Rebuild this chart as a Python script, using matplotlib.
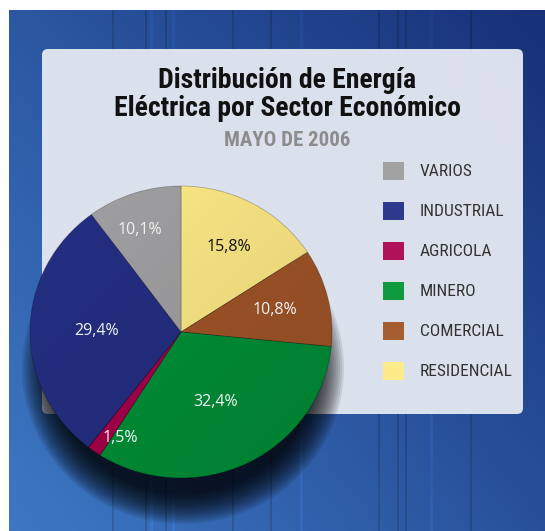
import numpy as np
import matplotlib.pyplot as plt
import matplotlib.font_manager as fm
from matplotlib.patches import FancyBboxPatch, Rectangle, Ellipse

# datos del grafico (orden horario desde las 12)
sectores = ["RESIDENCIAL", "COMERCIAL", "MINERO", "AGRICOLA", "INDUSTRIAL", "VARIOS"]
porcentajes = [15.8, 10.8, 32.4, 1.5, 29.4, 10.1]
orden_leyenda = ["VARIOS", "INDUSTRIAL", "AGRICOLA", "MINERO", "COMERCIAL", "RESIDENCIAL"]

colores_pie = {"RESIDENCIAL": "#f9e684", "COMERCIAL": "#9f5428", "MINERO": "#008f37",
               "AGRICOLA": "#a5004a", "INDUSTRIAL": "#242e80", "VARIOS": "#9e9ea0"}
colores_ley = {"RESIDENCIAL": "#fdeb8a", "COMERCIAL": "#a65d31", "MINERO": "#0f9a40",
               "AGRICOLA": "#b0125a", "INDUSTRIAL": "#2e3a8e", "VARIOS": "#a2a2a2"}
color_texto = {"RESIDENCIAL": "#111111"}
# radio y giro (grados) de cada etiqueta respecto al centro de su porcion
radio_etiqueta = {"RESIDENCIAL": 0.66, "COMERCIAL": 0.64, "MINERO": 0.53,
                  "AGRICOLA": 0.83, "INDUSTRIAL": 0.56, "VARIOS": 0.75}
giro_etiqueta = {"AGRICOLA": 6, "VARIOS": 3}

W, H = 545, 531

# fuente condensada: la primera disponible
disponibles = {f.name for f in fm.fontManager.ttflist}
narrow = None
for cand in ['Roboto Condensed', 'Archivo Narrow', 'Liberation Sans Narrow']:
    if cand in disponibles:
        narrow = cand
        break
estiramiento = 'normal'
if narrow is None:
    narrow = 'DejaVu Sans'
    estiramiento = 'condensed'
sans = ['Open Sans', 'DejaVu Sans']

fig = plt.figure(figsize=(W / 100, H / 100), dpi=100, facecolor='white')
ax = fig.add_axes([0, 0, 1, 1])
ax.set_xlim(0, W)
ax.set_ylim(H, 0)
ax.axis('off')

# fondo azul con vetas
x0, y0 = 9, 10
xs = np.linspace(0, 1, W - x0)
ys = np.linspace(0, 1, H - y0)
t = 0.55 * (1 - xs[None, :]) + 0.45 * ys[:, None]
dark = np.array([0.09, 0.19, 0.47])
light = np.array([0.24, 0.47, 0.77])
bg = dark + (light - dark) * t[..., None]
for sx in [112, 145, 165, 232, 270, 378, 397, 405, 470]:
    bg[:, sx - x0:sx - x0 + 2] *= 0.85
for sx in [150, 172, 300, 430]:
    bg[:, sx - x0:sx - x0 + 3] = np.clip(bg[:, sx - x0:sx - x0 + 3] * 1.08, 0, 1)
ax.imshow(bg, extent=(x0, W, H, y0), aspect='auto', interpolation='bilinear', zorder=0)

# panel claro
panel = FancyBboxPatch((42, 49), 481, 365, boxstyle="round,pad=0,rounding_size=6",
                       fc='#e2e7f0', ec='none', alpha=0.97, zorder=1)
ax.add_patch(panel)

# sombra del pastel (mas hacia abajo)
for k in np.linspace(10, -20, 16):
    ax.add_patch(Ellipse((183, 368), 2 * (151 + k), 2 * (146 + k), fc='black',
                         ec='none', alpha=0.09, zorder=2))

# titulos
ax.text(287, 80, "Distribución de Energía", ha='center', va='center', fontsize=20,
        fontweight='bold', family=narrow, stretch=estiramiento, color='#111111', zorder=3)
ax.text(287, 108, "Eléctrica por Sector Económico", ha='center', va='center', fontsize=20,
        fontweight='bold', family=narrow, stretch=estiramiento, color='#111111', zorder=3)
ax.text(287, 141, "MAYO DE 2006", ha='center', va='center', fontsize=15,
        fontweight='bold', family=narrow, stretch=estiramiento, color='#8c8c8e', zorder=3)

# leyenda
for i, nombre in enumerate(orden_leyenda):
    ax.add_patch(Rectangle((383, 162 + 40 * i), 21, 18, fc=colores_ley[nombre],
                           ec='none', zorder=3))
    ax.text(420, 171 + 40 * i, nombre, ha='left', va='center', fontsize=12.5,
            family=narrow, stretch=estiramiento, color='#333333', zorder=3)

# pastel
cx, cy, rx, ry = 181, 332, 151, 146
pax = fig.add_axes([(cx - rx) / W, (H - cy - ry) / H, 2 * rx / W, 2 * ry / H])
wedges, _ = pax.pie(porcentajes, colors=[colores_pie[s] for s in sectores],
                    startangle=90, counterclock=False, radius=1,
                    wedgeprops=dict(linewidth=0.6, edgecolor=(0, 0, 0, 0.25)))
pax.set_aspect('auto')
pax.set_xlim(-1, 1)
pax.set_ylim(-1, 1)
pax.axis('off')

# leve sombreado: mas claro arriba a la izquierda
gx, gy = np.meshgrid(np.linspace(-1, 1, 200), np.linspace(1, -1, 200))
sombreado = np.zeros((200, 200, 4))
sombreado[..., 3] = np.clip(0.05 + 0.07 * (gx - gy) / 2, 0, 1)
img = pax.imshow(sombreado, extent=(-1, 1, -1, 1), aspect='auto', zorder=2)
img.set_clip_path(Ellipse((0, 0), 2, 2, transform=pax.transData))

for w, s, p in zip(wedges, sectores, porcentajes):
    ang = np.deg2rad((w.theta1 + w.theta2) / 2 + giro_etiqueta.get(s, 0))
    r = radio_etiqueta[s]
    pax.text(r * np.cos(ang), r * np.sin(ang), f"{p:.1f}%".replace('.', ','),
             ha='center', va='center', fontsize=11.5, family=sans, zorder=3,
             color=color_texto.get(s, '#f2f2f2'))

fig.savefig('out.png', dpi=100, facecolor='white')
